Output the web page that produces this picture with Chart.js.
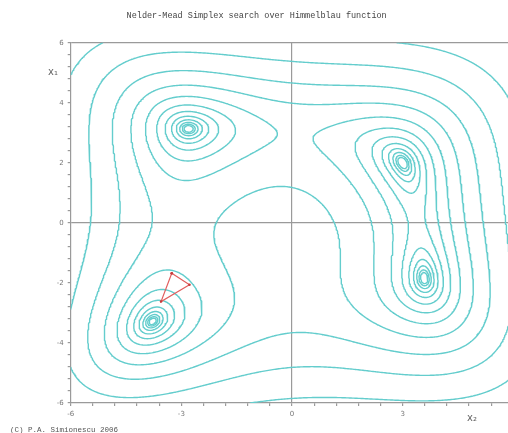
<!DOCTYPE html>
<html><head><meta charset="utf-8">
<script src="https://cdn.jsdelivr.net/npm/chart.js@4"></script>
<style>html,body{margin:0;padding:0;overflow:hidden;background:#fff;width:508px;height:433px}canvas{display:block}</style>
</head><body>
<canvas id="c" width="530" height="433"></canvas>
<script>
// ---- data ----
const titleText = 'Nelder-Mead Simplex search over Himmelblau function';
const creditText = '(C) P.A. Simionescu 2006';
const xAxisLabel = 'x\u2082';
const yAxisLabel = 'x\u2081';
const xRange = [-6, 6];
const yRange = [-6, 6];
const xTickLabels = [-6, -3, 0, 3, 6];
const yTickLabels = [-6, -4, -2, 0, 2, 4, 6];
const xMinorStep = 0.6;
const yMinorStep = 0.4;
const contourLevels = [0.5, 1, 2, 4, 8, 16, 32, 64, 128, 256, 512, 1024];
const simplexX = [-3.26, -2.78, -3.55];
const simplexY = [-1.68, -2.06, -2.62];

// ---- Himmelblau function and marching-squares contours ----
function himmelblau(x, y) { const a = x * x + y - 11, b = x + y * y - 7; return a * a + b * b; }
const GRID = 300;
const gx = i => xRange[0] + (xRange[1] - xRange[0]) * i / GRID;
const gy = j => yRange[0] + (yRange[1] - yRange[0]) * j / GRID;
const NX = GRID + 1;
const F = new Float64Array(NX * NX);
for (let j = 0; j <= GRID; j++) for (let i = 0; i <= GRID; i++) F[j * NX + i] = himmelblau(gx(i), gy(j));

function contourData(L) {
  const N = GRID, H = (N + 1) * N;
  const adj = new Map();
  const add = (a, b) => {
    if (!adj.has(a)) adj.set(a, []);
    if (!adj.has(b)) adj.set(b, []);
    adj.get(a).push(b); adj.get(b).push(a);
  };
  const pt = id => {
    if (id < H) {
      const j = Math.floor(id / N), i = id - j * N;
      const a = F[j * NX + i], b = F[j * NX + i + 1];
      const t = (L - a) / (b - a);
      return { x: gx(i) + t * (gx(i + 1) - gx(i)), y: gy(j) };
    } else {
      const k = id - H, j = Math.floor(k / NX), i = k - j * NX;
      const a = F[j * NX + i], b = F[(j + 1) * NX + i];
      const t = (L - a) / (b - a);
      return { x: gx(i), y: gy(j) + t * (gy(j + 1) - gy(j)) };
    }
  };
  for (let j = 0; j < N; j++) for (let i = 0; i < N; i++) {
    const v0 = F[j * NX + i], v1 = F[j * NX + i + 1], v2 = F[(j + 1) * NX + i + 1], v3 = F[(j + 1) * NX + i];
    const c = (v0 > L ? 1 : 0) | (v1 > L ? 2 : 0) | (v2 > L ? 4 : 0) | (v3 > L ? 8 : 0);
    if (c === 0 || c === 15) continue;
    const e0 = j * N + i, e2 = (j + 1) * N + i, e3 = H + j * NX + i, e1 = H + j * NX + i + 1;
    const centerHigh = (v0 + v1 + v2 + v3) / 4 > L;
    switch (c) {
      case 1: case 14: add(e3, e0); break;
      case 2: case 13: add(e0, e1); break;
      case 3: case 12: add(e3, e1); break;
      case 4: case 11: add(e1, e2); break;
      case 6: case 9: add(e0, e2); break;
      case 7: case 8: add(e3, e2); break;
      case 5: if (centerHigh) { add(e0, e1); add(e2, e3); } else { add(e3, e0); add(e1, e2); } break;
      case 10: if (centerHigh) { add(e3, e0); add(e1, e2); } else { add(e0, e1); add(e2, e3); } break;
    }
  }
  const visited = new Set();
  const out = [];
  const walk = start => {
    let cur = start;
    const first = start;
    while (true) {
      visited.add(cur);
      out.push(pt(cur));
      const nb = adj.get(cur);
      let next;
      for (const n of nb) if (!visited.has(n)) { next = n; break; }
      if (next === undefined) {
        if (nb.includes(first) && cur !== first && nb.length === 2) out.push(pt(first));
        break;
      }
      cur = next;
    }
    out.push({ x: null, y: null });
  };
  for (const [k, nb] of adj) if (nb.length === 1 && !visited.has(k)) walk(k);
  for (const [k] of adj) if (!visited.has(k)) walk(k);
  return out;
}

const contourColor = 'rgb(100,205,205)';
const contourDatasets = contourLevels.map(L => ({
  label: 'f = ' + L,
  data: contourData(L),
  showLine: true, borderColor: contourColor, borderWidth: 1.4,
  pointRadius: 0, spanGaps: false, borderCapStyle: 'round', borderJoinStyle: 'round', tension: 0
}));
const simplexDataset = {
  label: 'simplex',
  data: simplexX.concat([simplexX[0]]).map((x, k) => ({ x, y: simplexY.concat([simplexY[0]])[k] })),
  showLine: true, borderColor: 'rgb(225,95,95)', borderWidth: 1.2,
  pointRadius: 1.3, pointBackgroundColor: 'rgb(200,60,60)', pointBorderWidth: 0, tension: 0
};

const near = (a, b) => Math.abs(a - b) < 1e-6;
const makeTicks = (r, s) => { const t = []; const n = Math.round((r[1] - r[0]) / s); for (let k = 0; k <= n; k++) t.push(Math.round((r[0] + k * s) * 1e6) / 1e6); return t; };
const xTickValues = makeTicks(xRange, xMinorStep);
const yTickValues = makeTicks(yRange, yMinorStep);
const axisGray = '#9a9a9a';
const gridColor = ctx => (ctx.tick && (near(ctx.tick.value, 0) || near(ctx.tick.value, 6))) ? axisGray : 'rgba(0,0,0,0)';
const tickFont = { family: 'DejaVu Sans', size: 7 };

const textPlugin = {
  id: 'texts',
  afterDraw(chart) {
    const c = chart.ctx;
    c.save();
    c.fillStyle = '#555';
    c.font = '7.5px "Liberation Mono"';
    c.textAlign = 'left'; c.textBaseline = 'alphabetic';
    c.fillText(creditText, 10, 432);
    c.font = '10px "DejaVu Sans"';
    c.fillStyle = '#666';
    c.textAlign = 'center'; c.textBaseline = 'middle';
    c.fillText(yAxisLabel, 53, 72);
    c.fillText(xAxisLabel, 472, 418);
    c.restore();
  }
};

new Chart(document.getElementById('c'), {
  type: 'scatter',
  data: { datasets: [simplexDataset].concat(contourDatasets) },
  options: {
    responsive: false, animation: false, events: [],
    layout: { padding: { top: 0, right: 16.7, left: 0, bottom: 0 } },
    plugins: {
      legend: { display: false }, tooltip: { enabled: false },
      title: { display: true, text: titleText, color: '#444', font: { family: 'Liberation Mono', size: 8.5, weight: 'normal', lineHeight: 1.2 }, padding: { top: 11, bottom: 21.5 } }
    },
    scales: {
      x: {
        type: 'linear', min: xRange[0], max: xRange[1],
        afterBuildTicks: s => { s.ticks = xTickValues.map(v => ({ value: v })); },
        afterFit: s => { s.height = 30; },
        ticks: { autoSkip: false, maxRotation: 0, padding: 4, color: '#777', font: tickFont,
          callback: v => xTickLabels.some(t => near(t, v)) ? String(Math.round(v)) : '' },
        grid: { color: gridColor, tickColor: axisGray, tickLength: 3, lineWidth: 1.2 },
        border: { color: axisGray, width: 1.2 }
      },
      y: {
        type: 'linear', min: yRange[0], max: yRange[1],
        afterBuildTicks: s => { s.ticks = yTickValues.map(v => ({ value: v })); },
        afterFit: s => { s.width = 70.7; },
        ticks: { autoSkip: false, padding: 4, color: '#777', font: tickFont,
          callback: v => yTickLabels.some(t => near(t, v)) ? String(Math.round(v)) : '' },
        grid: { color: gridColor, tickColor: axisGray, tickLength: 3, lineWidth: 1.2 },
        border: { color: axisGray, width: 1.2 }
      }
    }
  },
  plugins: [textPlugin]
});
</script>
</body></html>
